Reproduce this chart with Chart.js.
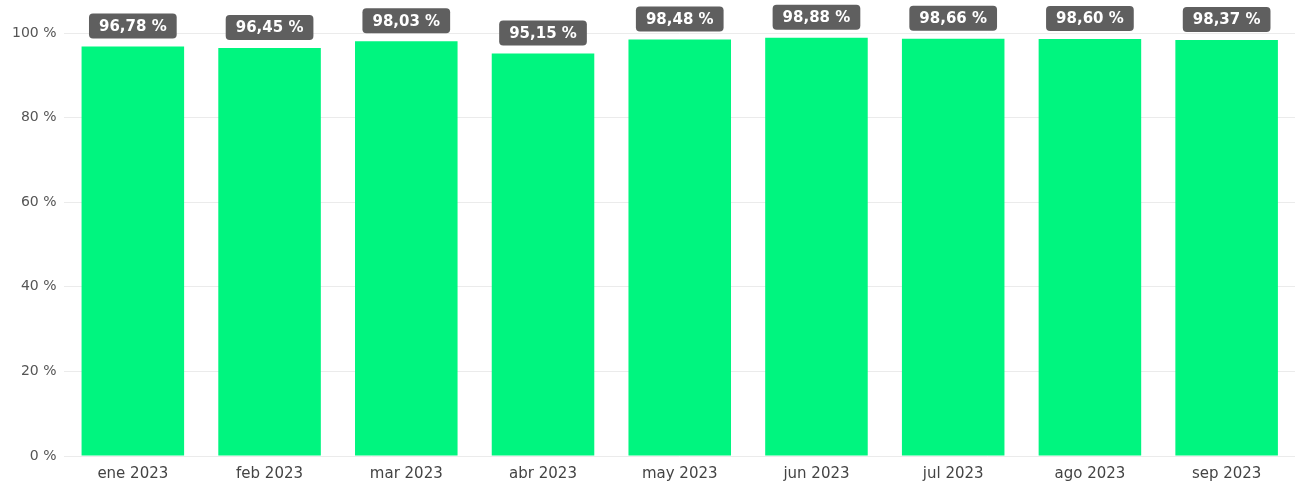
<!DOCTYPE html>
<html>
<head>
<meta charset="utf-8">
<script src="https://cdn.jsdelivr.net/npm/chart.js@4"></script>
<style>
  html, body { margin: 0; padding: 0; background: #fff; }
  #wrap { width: 1295px; height: 491px; }
</style>
</head>
<body>
<div id="wrap"><canvas id="chart"></canvas></div>
<script>
const months = ["ene 2023", "feb 2023", "mar 2023", "abr 2023", "may 2023", "jun 2023", "jul 2023", "ago 2023", "sep 2023"];
const values = [96.78, 96.45, 98.03, 95.15, 98.48, 98.88, 98.66, 98.60, 98.37];
const yTicks = [0, 20, 40, 60, 80, 100];

// format like "96,78 %"
function fmt(v) {
  return v.toFixed(2).replace(".", ",") + " %";
}

// Draws the dark rounded value boxes above each bar
const valueBoxes = {
  id: "valueBoxes",
  afterDatasetsDraw(chart) {
    const ctx = chart.ctx;
    const meta = chart.getDatasetMeta(0);
    ctx.save();
    ctx.font = "bold 15px 'DejaVu Sans'";
    ctx.textAlign = "center";
    ctx.textBaseline = "middle";
    meta.data.forEach((bar, i) => {
      const text = fmt(values[i]);
      const w = ctx.measureText(text).width + 20;
      const h = 25;
      const x = bar.x - w / 2;
      const y = bar.y - 8 - h;
      ctx.fillStyle = "#5f5f5f";
      ctx.beginPath();
      ctx.roundRect(x, y, w, h, 4);
      ctx.fill();
      ctx.fillStyle = "#ffffff";
      ctx.fillText(text, bar.x, y + h / 2 + 1);
    });
    ctx.restore();
  },
};

new Chart(document.getElementById("chart"), {
  type: "bar",
  data: {
    labels: months,
    datasets: [
      {
        data: values,
        backgroundColor: "#00f57f",
        borderWidth: 0,
        categoryPercentage: 1,
        barPercentage: 0.75,
      },
    ],
  },
  options: {
    responsive: true,
    maintainAspectRatio: false,
    animation: false,
    layout: {
      padding: { top: 33, right: 0, bottom: 7, left: 4 },
    },
    plugins: {
      legend: { display: false },
      tooltip: { enabled: false },
    },
    scales: {
      x: {
        grid: { display: false },
        border: { display: false },
        ticks: {
          color: "#444",
          font: { family: "'DejaVu Sans'", size: 15 },
          padding: 1,
          maxRotation: 0,
        },
      },
      y: {
        min: 0,
        max: 100,
        afterBuildTicks(axis) {
          axis.ticks = yTicks.map((v) => ({ value: v }));
        },
        grid: { color: "#ebebeb", lineWidth: 1, drawTicks: false },
        border: { display: false },
        ticks: {
          color: "#555",
          font: { family: "'DejaVu Sans'", size: 14 },
          padding: 8,
          callback: (v) => v + " %",
        },
      },
    },
  },
  plugins: [valueBoxes],
});
</script>
</body>
</html>
